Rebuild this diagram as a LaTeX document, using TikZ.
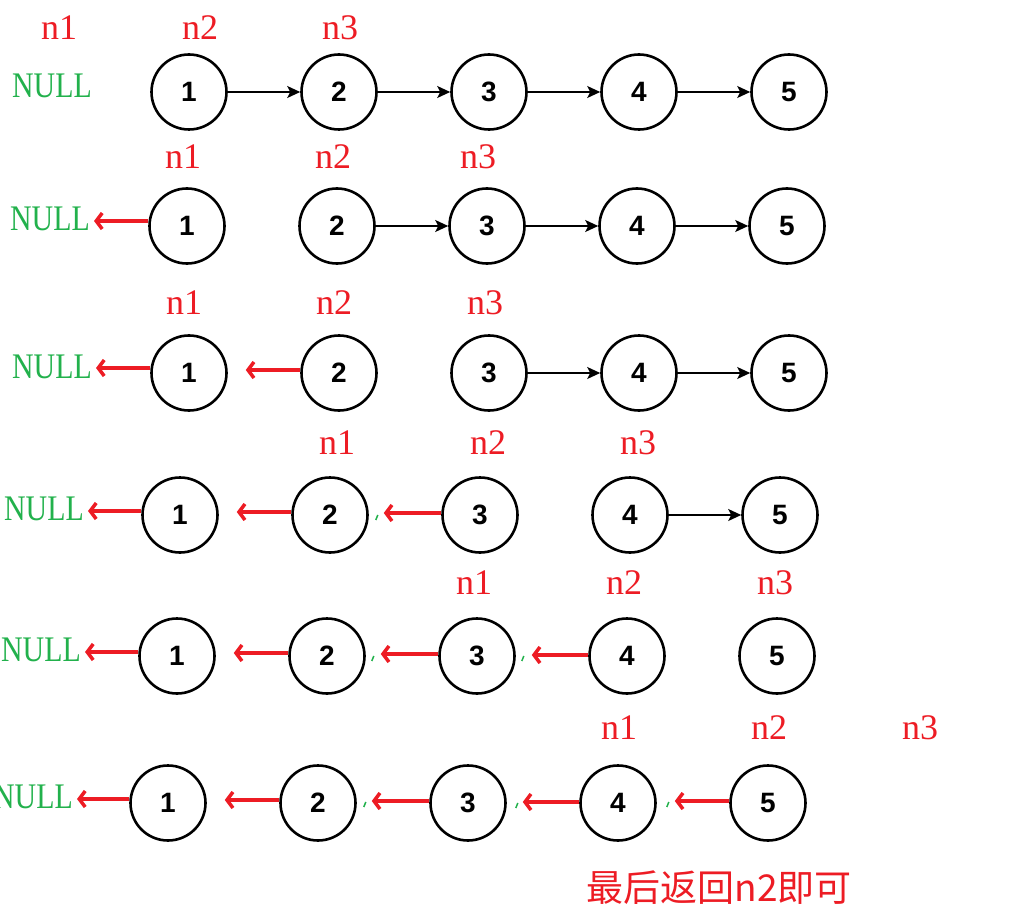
\documentclass[tikz,border=0pt]{standalone}
\usepackage{fontspec}
\setmainfont{Liberation Serif}
\newfontfamily\numfont{Liberation Sans}
\newfontfamily\cjk{Noto Sans CJK SC}
\usetikzlibrary{arrows.meta}
\definecolor{pred}{RGB}{237,28,36}
\definecolor{pgreen}{RGB}{34,177,76}
\tikzset{
  lnode/.style={circle,draw=black,line width=2.6pt,minimum size=75pt,inner sep=0pt,
    font=\numfont\bfseries\fontsize{28}{30}\selectfont},
  ptr/.style={text=pred,font=\fontsize{36}{40}\selectfont,inner sep=0pt},
  nulltxt/.style={text=pgreen,font=\fontsize{36}{40}\selectfont,inner sep=1pt},
  nxt/.style={line width=1.8pt,-{Stealth[length=13pt,width=12pt,inset=3pt]}},
  rev/.style={pred,line width=4.5pt,-{Straight Barb[length=6pt,width=16pt,line width=3.5pt]}},
  tick/.style={pgreen,line width=1.5pt}
}
\begin{document}
\begin{tikzpicture}[x=1pt,y=-1pt]
\useasboundingbox (0,0) rectangle (1012,912);
% rows of nodes
\foreach \r/\y/\x in {1/92/189,2/226/187,3/373/189,4/515/180,5/656/177,6/803/168}{
  \foreach \i in {1,...,5}{
    \node[lnode] (r\r n\i) at ({\x+150*(\i-1)},\y) {\i};
  }
}
% NULL labels
\node[nulltxt] (null1) at (52,86) {\scalebox{0.83}[1]{NULL}};
\node[nulltxt] (null2) at (50,219) {\scalebox{0.83}[1]{NULL}};
\node[nulltxt] (null3) at (52,367) {\scalebox{0.83}[1]{NULL}};
\node[nulltxt] (null4) at (44,509) {\scalebox{0.83}[1]{NULL}};
\node[nulltxt] (null5) at (41,650) {\scalebox{0.83}[1]{NULL}};
\node[nulltxt] (null6) at (33,797) {\scalebox{0.83}[1]{NULL}};
% pointer labels
\node[ptr] (p1a) at (59,28) {n1};
\node[ptr] (p1b) at (200,28) {n2};
\node[ptr] (p1c) at (340,28) {n3};
\node[ptr] (p2a) at (183,157) {n1};
\node[ptr] (p2b) at (333,157) {n2};
\node[ptr] (p2c) at (478,157) {n3};
\node[ptr] (p3a) at (184,303) {n1};
\node[ptr] (p3b) at (334,303) {n2};
\node[ptr] (p3c) at (485,303) {n3};
\node[ptr] (p4a) at (337,443) {n1};
\node[ptr] (p4b) at (488,443) {n2};
\node[ptr] (p4c) at (638,443) {n3};
\node[ptr] (p5a) at (474,583) {n1};
\node[ptr] (p5b) at (624,583) {n2};
\node[ptr] (p5c) at (775,583) {n3};
\node[ptr] (p6a) at (619,728) {n1};
\node[ptr] (p6b) at (769,728) {n2};
\node[ptr] (p6c) at (920,728) {n3};
\node[ptr,font=\cjk\fontsize{37}{40}\selectfont] (final) at (719,888) {最后返回n2即可};
% forward links
\draw[nxt] (r1n1) -- (r1n2);
\draw[nxt] (r1n2) -- (r1n3);
\draw[nxt] (r1n3) -- (r1n4);
\draw[nxt] (r1n4) -- (r1n5);
\draw[nxt] (r2n2) -- (r2n3);
\draw[nxt] (r2n3) -- (r2n4);
\draw[nxt] (r2n4) -- (r2n5);
\draw[nxt] (r3n3) -- (r3n4);
\draw[nxt] (r3n4) -- (r3n5);
\draw[nxt] (r4n4) -- (r4n5);
% reversed links
\draw[rev] ([yshift=5pt]r2n1.west) -- ([xshift=3pt,yshift=-2pt]null2.east);
\draw[rev] ([yshift=5pt]r3n1.west) -- ([xshift=3pt,yshift=-1pt]null3.east);
\draw[rev,shorten >=18pt] ([yshift=3pt]r3n2.west) -- ([yshift=3pt]r3n1.east);
\foreach \r in {4,5,6}{
  \draw[rev] ([yshift=4pt]r\r n1.west) -- ([xshift=3pt,yshift=-2pt]null\r.east);
  \draw[rev,shorten >=18pt] ([yshift=3pt]r\r n2.west) -- ([yshift=3pt]r\r n1.east);
  \draw[rev,shorten >=15pt] ([yshift=2pt]r\r n3.west) -- ([yshift=2pt]r\r n2.east);
}
\foreach \r in {5,6}{
  \draw[rev,shorten >=16pt] ([yshift=1pt]r\r n4.west) -- ([yshift=1pt]r\r n3.east);
}
\draw[rev,shorten >=18pt] ([yshift=2pt]r6n5.west) -- ([yshift=2pt]r6n4.east);
% small green marks
\draw[tick] ([xshift=7pt,yshift=-5pt]r4n2.east) -- ++(2,-5);
\draw[tick] ([xshift=6pt,yshift=-5pt]r5n2.east) -- ++(2,-5);
\draw[tick] ([xshift=6pt,yshift=-5pt]r5n3.east) -- ++(2,-5);
\draw[tick] ([xshift=7pt,yshift=-4pt]r6n2.east) -- ++(2,-5);
\draw[tick] ([xshift=9pt,yshift=-5pt]r6n3.east) -- ++(2,-5);
\draw[tick] ([xshift=10pt,yshift=-4pt]r6n4.east) -- ++(2,-5);
\end{tikzpicture}
\end{document}
